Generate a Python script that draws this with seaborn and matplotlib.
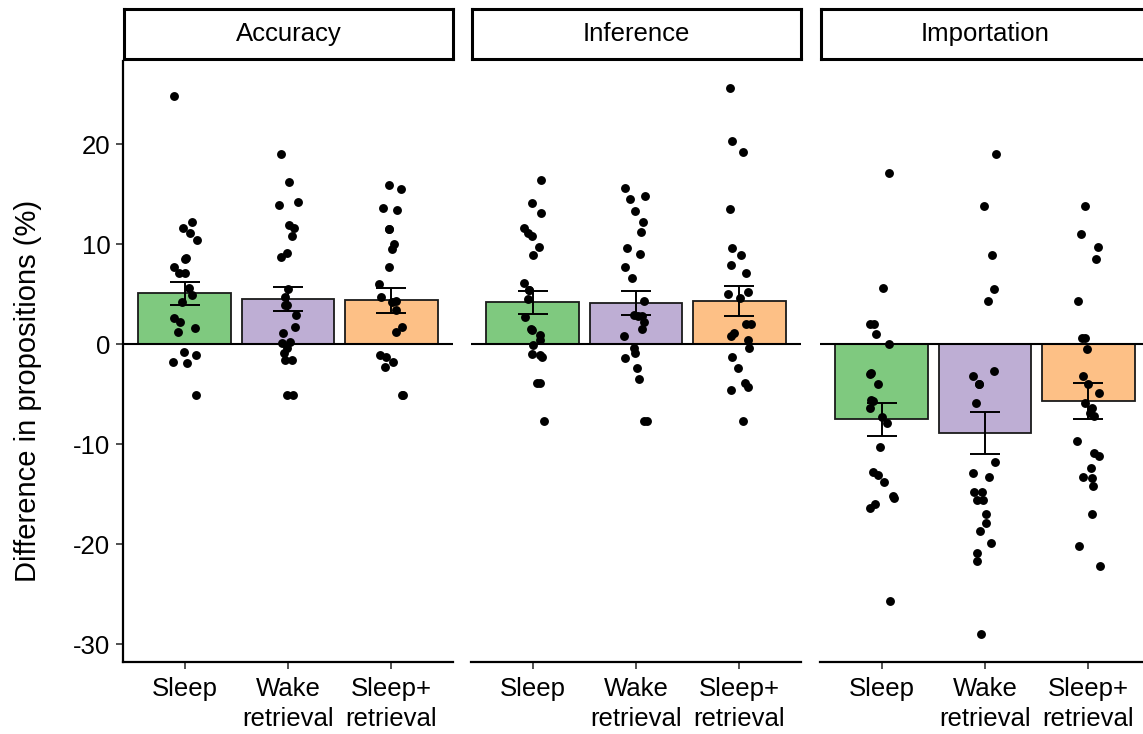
import numpy as np
import pandas as pd
import matplotlib
matplotlib.use("Agg")
import matplotlib.pyplot as plt
import seaborn as sns

# ---- data -------------------------------------------------------------
measures = ["Accuracy", "Inference", "Importation"]
conditions = ["Sleep", "Wake\nretrieval", "Sleep+\nretrieval"]
palette = ["#7FC97F", "#BEAED4", "#FDC086"]

# group means and standard errors (%)
accuracy_mean = [5.07, 4.5, 4.4]
accuracy_se = [1.17, 1.17, 1.25]
inference_mean = [4.17, 4.1, 4.3]
inference_se = [1.15, 1.23, 1.53]
importation_mean = [-7.53, -8.93, -5.7]
importation_se = [1.68, 2.1, 1.78]

# individual participants' differences (%)
accuracy_sleep = [24.8, 12.2, 11.6, 11.1, 10.4, 8.6, 8.5, 7.7, 7.1, 7.1, 5.6, 4.9,
                  4.2, 2.6, 2.2, 1.6, 1.2, -0.8, -1.1, -1.8, -1.9, -5.1]
accuracy_wake = [19.0, 16.2, 14.2, 13.9, 11.9, 11.6, 10.8, 9.1, 8.7, 5.5, 4.7, 3.9,
                 3.9, 2.9, 1.7, 1.1, 0.2, 0.1, -0.4, -0.9, -1.6, -1.6, -5.1, -5.1]
accuracy_sleep_ret = [15.9, 15.5, 13.6, 13.4, 11.5, 11.5, 10.0, 9.5, 7.7, 6.0, 4.7,
                      4.3, 4.2, 3.4, 1.7, 1.2, -1.1, -1.3, -1.8, -2.3, -5.1, -5.1]

inference_sleep = [16.4, 14.1, 13.1, 11.6, 11.1, 10.8, 9.7, 8.9, 6.1, 5.4, 5.4, 4.5,
                   2.7, 1.5, 1.4, 0.9, 0.4, -0.1, -1.0, -1.1, -1.3, -3.9, -3.9, -7.7]
inference_wake = [15.6, 14.8, 14.5, 13.3, 12.2, 11.2, 9.6, 9.0, 7.7, 6.6, 4.3, 2.9,
                  2.8, 2.8, 2.2, 1.5, 0.8, -0.4, -0.9, -1.4, -2.4, -3.5, -7.7, -7.7]
inference_sleep_ret = [25.6, 20.3, 19.2, 13.5, 9.6, 8.9, 7.9, 7.1, 5.2, 5.0, 4.6,
                       2.0, 2.0, 1.1, 0.8, 0.4, -0.4, -1.3, -2.4, -3.9, -4.3, -4.6, -7.7]

importation_sleep = [17.1, 5.6, 2.0, 2.0, 1.0, 0.0, -2.9, -3.0, -4.0, -5.6, -5.7,
                     -6.4, -7.3, -7.9, -10.3, -12.8, -13.1, -13.8, -15.2, -15.4,
                     -16.0, -16.4, -25.7]
importation_wake = [19.0, 13.8, 8.9, 5.5, 4.3, -2.7, -3.2, -4.0, -4.0, -5.9, -11.8,
                    -12.9, -13.3, -14.8, -14.8, -15.6, -15.6, -17.0, -17.9, -18.7,
                    -19.9, -20.9, -21.7, -29.0]
importation_sleep_ret = [13.8, 11.0, 9.7, 8.5, 4.3, 0.6, 0.6, -0.5, -3.2, -4.0, -4.9,
                         -5.9, -6.4, -6.9, -7.2, -9.7, -10.9, -11.2, -12.4, -13.3,
                         -13.4, -14.2, -17.0, -20.2, -22.2]

y_ticks = [-30, -20, -10, 0, 10, 20]

summary = {
    "Accuracy": (accuracy_mean, accuracy_se),
    "Inference": (inference_mean, inference_se),
    "Importation": (importation_mean, importation_se),
}
points = {
    "Accuracy": [accuracy_sleep, accuracy_wake, accuracy_sleep_ret],
    "Inference": [inference_sleep, inference_wake, inference_sleep_ret],
    "Importation": [importation_sleep, importation_wake, importation_sleep_ret],
}

# ---- style -------------------------------------------------------------
sns.set_theme(style="white")
plt.rcParams["font.family"] = ["Liberation Sans", "DejaVu Sans"]
plt.rcParams["text.color"] = "black"

W, H = 1143, 734
fig = plt.figure(figsize=(W / 100, H / 100), dpi=100)

panel_left = [123, 471, 820]
panel_w = 330
panel_top, panel_bottom = 61, 662
strip_top, strip_bottom = 9, 59
fs = 18.5

np.random.seed(7)

for i, m in enumerate(measures):
    ax = fig.add_axes([panel_left[i] / W, 1 - panel_bottom / H,
                       panel_w / W, (panel_bottom - panel_top) / H])
    mean, se = summary[m]
    bars = pd.DataFrame({"condition": conditions, "mean": mean, "se": se})
    pts = pd.DataFrame({
        "condition": np.repeat(conditions, [len(p) for p in points[m]]),
        "value": np.concatenate(points[m]),
    })

    sns.barplot(data=bars, x="condition", y="mean", hue="condition",
                order=conditions, hue_order=conditions, palette=palette,
                width=0.9, edgecolor="#1a1a1a", linewidth=1.3, saturation=1,
                errorbar=None, legend=False, ax=ax, zorder=2)
    ax.axhline(0, color="black", lw=1.5, zorder=3)
    ax.errorbar(np.arange(len(conditions)), bars["mean"], yerr=bars["se"],
                fmt="none", ecolor="black", elinewidth=1.4, capsize=11,
                capthick=1.4, zorder=4)
    sns.stripplot(data=pts, x="condition", y="value", order=conditions,
                  color="black", size=6.4, jitter=0.12, linewidth=0,
                  ax=ax, zorder=5)

    ax.set_xlim(-0.6, 2.6)
    ax.set_ylim(-31.8, 28.3)
    ax.set_xlabel("")
    ax.set_ylabel("")
    ax.set_facecolor("white")
    for side in ["top", "right"]:
        ax.spines[side].set_visible(False)
    ax.spines["bottom"].set_linewidth(1.6)
    ax.spines["bottom"].set_color("black")
    ax.tick_params(axis="x", length=5, width=1.2, color="#333333",
                   labelsize=fs, pad=6, labelcolor="black", bottom=True)
    for lab in ax.get_xticklabels():
        lab.set_linespacing(1.3)
    if i == 0:
        ax.spines["left"].set_linewidth(1.6)
        ax.spines["left"].set_color("black")
        ax.set_yticks(y_ticks)
        ax.set_yticklabels([str(t) for t in y_ticks])
        ax.tick_params(axis="y", length=5, width=1.2, color="#333333",
                       labelsize=fs, pad=4, labelcolor="black", left=True)
    else:
        ax.spines["left"].set_visible(False)
        ax.set_yticks([])

    # facet strip
    sax = fig.add_axes([(panel_left[i] + 1) / W, 1 - strip_bottom / H,
                        (panel_w - 1) / W, (strip_bottom - strip_top) / H])
    sax.set_xticks([])
    sax.set_yticks([])
    sax.set_facecolor("white")
    for s in sax.spines.values():
        s.set_visible(True)
        s.set_linewidth(2.2)
        s.set_color("black")
    sax.text(0.5, 0.5, m, ha="center", va="center", fontsize=fs,
             transform=sax.transAxes)

fig.text(28 / W, 1 - 391 / H, "Difference in propositions (%)", rotation=90,
         ha="center", va="center", fontsize=21)

fig.savefig("out.png", dpi=100)
